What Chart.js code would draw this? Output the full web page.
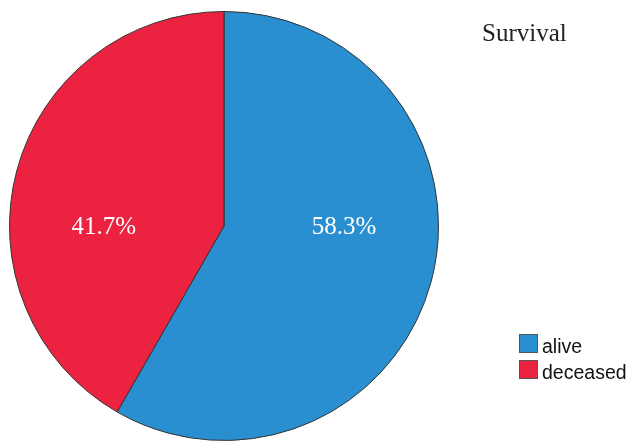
<!DOCTYPE html>
<html lang="en">
<head>
    <meta charset="UTF-8">
    <title>Survival</title>
    <style>
        html, body { margin: 0; padding: 0; background: #fff; }
        #chart { display: block; }
    </style>
</head>
<body>
    <canvas id="chart" width="629" height="442"></canvas>
    <script src="https://cdn.jsdelivr.net/npm/chart.js"></script>
    <script type="text/javascript">
        // data
        var categories = ['alive', 'deceased']
        var percents = [58.3, 41.7]
        var sliceColors = ['#2a8fd0', '#ec2340']
        var chartTitle = 'Survival'

        // labels in the slices, SPSS style: placed level with the centre
        var sliceLabels = {
            id: 'sliceLabels',
            afterDatasetsDraw(chart) {
                var ctx = chart.ctx
                var meta = chart.getDatasetMeta(0)
                ctx.save()
                ctx.fillStyle = '#fff'
                ctx.font = '25px "Liberation Serif", "DejaVu Serif", serif'
                ctx.textAlign = 'center'
                ctx.textBaseline = 'middle'
                meta.data.forEach((arc, i) => {
                    var p = arc.getProps(['x', 'y', 'startAngle', 'endAngle', 'outerRadius'], true)
                    var mid = (p.startAngle + p.endAngle) / 2
                    var dir = Math.cos(mid) >= 0 ? 1 : -1
                    ctx.fillText(percents[i].toFixed(1) + '%', p.x + dir * p.outerRadius * 0.56, p.y + 1)
                })
                ctx.restore()
            }
        }

        // title and legend on the right
        var sideLegend = {
            id: 'sideLegend',
            afterDraw(chart) {
                var ctx = chart.ctx
                ctx.save()
                ctx.fillStyle = '#222'
                ctx.font = '25px "Liberation Serif", "DejaVu Serif", serif'
                ctx.textBaseline = 'alphabetic'
                ctx.fillText(chartTitle, 482, 41)

                ctx.font = '19.5px "Liberation Sans", Arial, sans-serif'
                ctx.textBaseline = 'alphabetic'
                categories.forEach((name, i) => {
                    var y = 334 + i * 26
                    ctx.fillStyle = sliceColors[i]
                    ctx.fillRect(519, y, 19, 19)
                    ctx.strokeStyle = '#555'
                    ctx.lineWidth = 1
                    ctx.strokeRect(519.5, y + 0.5, 18, 18)
                    ctx.fillStyle = '#111'
                    ctx.fillText(name, 542, y + 19)
                })
                ctx.restore()
            }
        }

        var ctx = document.getElementById('chart')
        var chart = new Chart(ctx, {
            type: 'pie',
            data: {
                labels: categories,
                datasets: [{
                    data: percents,
                    backgroundColor: sliceColors,
                    borderColor: '#333',
                    borderWidth: 1
                }]
            },
            options: {
                responsive: false,
                animation: false,
                layout: {
                    padding: { left: 9, top: 11, right: 190, bottom: 1 }
                },
                plugins: {
                    legend: { display: false },
                    tooltip: { enabled: false }
                }
            },
            plugins: [sliceLabels, sideLegend]
        })
    </script>
</body>
</html>
